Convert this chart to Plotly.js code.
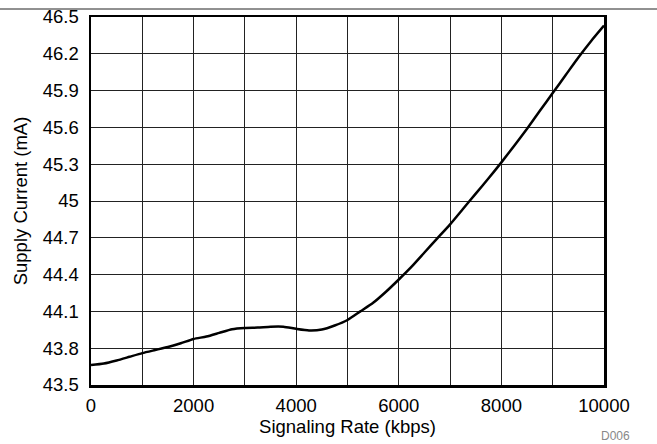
<!DOCTYPE html>
<html>
<head>
<meta charset="utf-8">
<script src="https://cdn.plot.ly/plotly-3.0.1.min.js"></script>
<style>html,body{margin:0;padding:0;background:#fff;}#chart{width:657px;height:444px;}</style>
</head>
<body>
<div id="chart"></div>
<script>
const rateKbps = [0,250,500,750,1000,1250,1500,1750,2000,2250,2500,2750,3000,3250,3500,3750,4000,4250,4500,4750,5000,5250,5500,5750,6000,6250,6500,6750,7000,7250,7500,7750,8000,8250,8500,8750,9000,9250,9500,9750,10000];
const supplyCurrent = [43.662,43.675,43.70,43.73,43.76,43.785,43.81,43.84,43.875,43.895,43.925,43.955,43.965,43.968,43.975,43.975,43.958,43.945,43.952,43.985,44.03,44.10,44.17,44.26,44.36,44.465,44.58,44.695,44.81,44.935,45.06,45.185,45.315,45.45,45.59,45.735,45.88,46.025,46.17,46.305,46.43];
const xTicks = [0,2000,4000,6000,8000,10000];
const yTicks = [43.5,43.8,44.1,44.4,44.7,45,45.3,45.6,45.9,46.2,46.5];
const yTickText = ['43.5','43.8','44.1','44.4','44.7','45','45.3','45.6','45.9','46.2','46.5'];

const font = {family:'Liberation Sans, Arial, sans-serif', size:18.5, color:'#000'};
const trace = {x:rateKbps, y:supplyCurrent, mode:'lines', line:{color:'#000', width:2.5, shape:'spline', smoothing:0.6}, hoverinfo:'skip'};
const layout = {
  width:657, height:444,
  margin:{l:91, r:53, t:17, b:59},
  paper_bgcolor:'#fff', plot_bgcolor:'#fff',
  showlegend:false,
  font:font,
  xaxis:{range:[0,10000], tickvals:xTicks, ticktext:xTicks.map(String),
    showgrid:true, gridcolor:'#222', gridwidth:1,
    minor:{dtick:1000, showgrid:true, gridcolor:'#222', gridwidth:1},
    showline:true, linecolor:'#000', linewidth:2.5, mirror:true, ticks:'', zeroline:false,
    ticklabelstandoff:2, tickfont:font,
    title:{text:'Signaling Rate (kbps)', font:font, standoff:0}},
  yaxis:{range:[43.5,46.5], tickvals:yTicks, ticktext:yTickText,
    showgrid:true, gridcolor:'#222', gridwidth:1,
    showline:true, linecolor:'#000', linewidth:2.5, mirror:true, ticks:'', zeroline:false,
    ticklabelstandoff:6, tickfont:font,
    title:{text:'Supply Current (mA)', font:font, standoff:11}},
  shapes:[{type:'line', xref:'paper', yref:'paper', x0:-91/513, x1:566/513, y0:376/368, y1:376/368, line:{color:'#222', width:1}}],
  annotations:[{text:'D006', xref:'paper', yref:'paper', x:632/513-91/513, y:-51/368, xanchor:'right', yanchor:'middle', showarrow:false, font:{family:'Liberation Sans, Arial, sans-serif', size:12, color:'#888'}}]
};
Plotly.newPlot('chart',[trace],layout,{displayModeBar:false, staticPlot:true});
</script>
</body>
</html>
